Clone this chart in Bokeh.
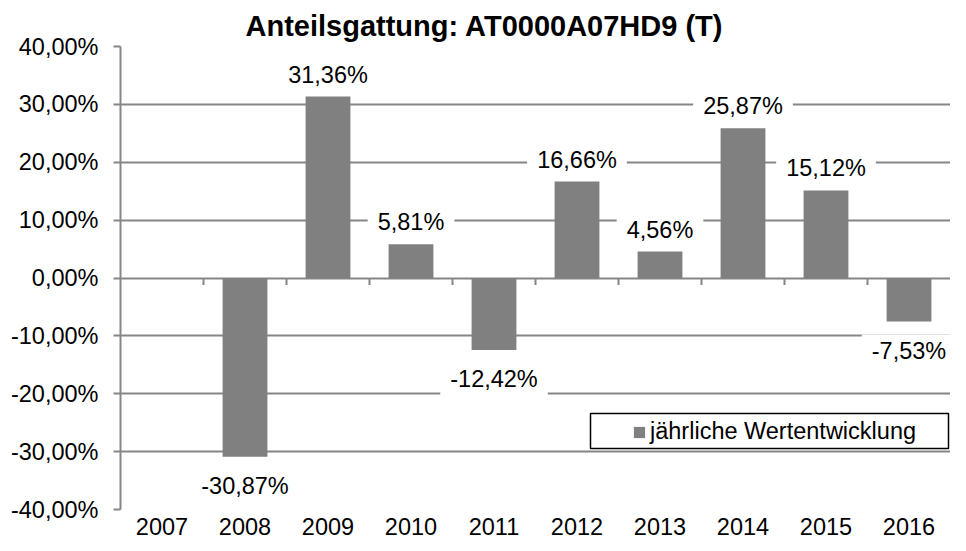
import math
from bokeh.plotting import figure
from bokeh.models import (ColumnDataSource, FixedTicker, Range1d, Legend, LegendItem,
                          BoxAnnotation, Title)
from bokeh.core.properties import value
from bokeh.embed import file_html
from bokeh.resources import INLINE

# ---- data ----
years = ["2007", "2008", "2009", "2010", "2011", "2012", "2013", "2014", "2015", "2016"]
returns = [float("nan"), -30.87, 31.36, 5.81, -12.42, 16.66, 4.56, 25.87, 15.12, -7.53]
y_ticks = [-40, -30, -20, -10, 0, 10, 20, 30, 40]
y_tick_labels = ["-40,00%", "-30,00%", "-20,00%", "-10,00%", "0,00%",
                 "10,00%", "20,00%", "30,00%", "40,00%"]
series_name = "jährliche Wertentwicklung"
title_text = "Anteilsgattung: AT0000A07HD9 (T)"

FONT = "Liberation Sans"
FS = "23.5px"
GRID = "#868686"
BAR = "#808080"

idx = list(range(len(years)))
src = ColumnDataSource(dict(x=idx, top=returns))


def fmt(v):
    return f"{v:.2f}".replace(".", ",") + "%"


pos = [(i, v) for i, v in zip(idx, returns) if not math.isnan(v) and v >= 0]
neg = [(i, v) for i, v in zip(idx, returns) if not math.isnan(v) and v < 0]
pos_src = ColumnDataSource(dict(x=[i for i, _ in pos], y=[v for _, v in pos],
                                t=[fmt(v) for _, v in pos]))
neg_src = ColumnDataSource(dict(x=[i for i, _ in neg], y=[v for _, v in neg],
                                t=[fmt(v) for _, v in neg]))

p = figure(width=950, height=543, output_backend="svg", toolbar_location=None,
           x_range=Range1d(-0.5, len(years) - 0.5), y_range=Range1d(-40, 40),
           min_border_left=120, min_border_right=0, min_border_top=46,
           min_border_bottom=34, outline_line_color=None, title=None)

p.add_layout(Title(text=title_text, align="left", offset=125, standoff=10,
                   text_font=FONT, text_font_size="29px", text_font_style="bold",
                   text_color="black"), "above")

# grid
p.xgrid.grid_line_color = None
p.ygrid.ticker = FixedTicker(ticks=y_ticks)
p.ygrid.grid_line_color = GRID
p.ygrid.grid_line_width = 2

# y axis
p.yaxis.ticker = FixedTicker(ticks=y_ticks)
p.yaxis.major_label_overrides = {t: l for t, l in zip(y_ticks, y_tick_labels)}
p.yaxis.axis_line_color = GRID
p.yaxis.axis_line_width = 2
p.yaxis.major_tick_line_color = GRID
p.yaxis.major_tick_line_width = 2
p.yaxis.major_tick_out = 7
p.yaxis.major_tick_in = 0
p.yaxis.minor_tick_line_color = None
p.yaxis.major_label_standoff = 15
p.yaxis.major_label_text_font = FONT
p.yaxis.major_label_text_font_size = FS
p.yaxis.major_label_text_color = "black"

# x axis
p.xaxis.ticker = FixedTicker(ticks=idx)
p.xaxis.major_label_overrides = {i: y for i, y in zip(idx, years)}
p.xaxis.axis_line_color = None
p.xaxis.major_tick_line_color = None
p.xaxis.minor_tick_line_color = None
p.xaxis.major_tick_out = 0
p.xaxis.major_tick_in = 0
p.xaxis.major_label_standoff = 8
p.xaxis.major_label_text_font = FONT
p.xaxis.major_label_text_font_size = FS
p.xaxis.major_label_text_color = "black"

bars = p.vbar(x="x", top="top", bottom=0, width=0.54, source=src,
              fill_color=BAR, line_color=None)

# category boundary ticks on the zero line
bounds = [i + 0.5 for i in idx[:-1]]
p.ray(x=bounds, y=[0] * len(bounds), length=7, length_units="screen",
      angle=-math.pi / 2, line_color=GRID, line_width=2)

# data labels (white boxes interrupt the gridlines)
pad = dict(left=10, right=10, top=3, bottom=3)
p.text(x="x", y="y", text="t", source=pos_src, text_align="center",
       text_baseline="middle", y_offset=-22, text_font=value(FONT),
       text_font_size=FS, text_color="black",
       background_fill_color="white", padding=pad)
p.text(x="x", y="y", text="t", source=neg_src, text_align="center",
       text_baseline="middle", y_offset=29, text_font=value(FONT),
       text_font_size=FS, text_color="black",
       background_fill_color="white", padding=pad)

# legend
box = BoxAnnotation(left=470, right=828, bottom=61, top=96,
                    left_units="screen", right_units="screen",
                    bottom_units="screen", top_units="screen",
                    fill_color="white", fill_alpha=1.0,
                    line_color="black", line_alpha=1.0, line_width=1.5,
                    editable=False)
p.add_layout(box)
legend = Legend(items=[LegendItem(label=series_name, renderers=[bars])],
                location=(512, 64), padding=0, margin=0,
                border_line_color=None, background_fill_alpha=0,
                glyph_width=14, glyph_height=14, label_standoff=4,
                label_text_font=FONT, label_text_font_size=FS,
                label_text_color="black")
p.add_layout(legend)

open("out.html", "w").write(file_html(p, INLINE))
